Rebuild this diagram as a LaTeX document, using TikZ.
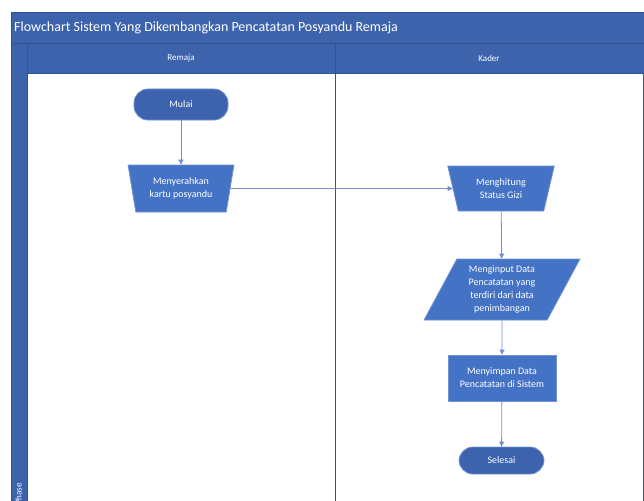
\documentclass[tikz,border=0pt]{standalone}
\usepackage{fontspec}
\setmainfont{Carlito}
\usetikzlibrary{shapes.geometric,arrows.meta}
\definecolor{barblue}{HTML}{3E63AD}
\definecolor{barline}{HTML}{2F5496}
\definecolor{nodeblue}{HTML}{4472C4}
\definecolor{termblue}{HTML}{3D62AE}
\definecolor{edgeblue}{HTML}{7193D2}
\definecolor{flowline}{HTML}{6F90D0}
\definecolor{laneline}{HTML}{44546A}
\tikzset{
  bar/.style={fill=barblue,draw=barline,line width=0.6pt},
  lbl/.style={text=white,font=\fontsize{9}{11}\selectfont,inner sep=0pt},
  proc/.style={fill=nodeblue,draw=edgeblue,line width=0.8pt,text=white,align=center,
    font=\fontsize{10}{13}\selectfont,inner sep=0pt},
  term/.style={proc,fill=termblue,rounded corners=14pt,rectangle,minimum height=31pt},
  trap/.style={proc,trapezium,trapezium stretches=true,shape border rotate=180},
  flow/.style={draw=flowline,line width=0.8pt,-{Triangle[length=5pt,width=5pt]}}
}
\begin{document}
\begin{tikzpicture}[x=1pt,y=-1pt]
\useasboundingbox (0,0) rectangle (644,500);
\clip (0,0) rectangle (644,500);
% frame
\draw[bar] (11,12) rectangle (650,43);
\draw[bar] (11,43) rectangle (27,510);
\draw[bar] (27,43) rectangle (335,73);
\draw[bar] (335,43) rectangle (650,73);
\draw[laneline,line width=0.8pt] (335,73) -- (335,510);
\draw[laneline,line width=0.6pt] (643,73) -- (643,510);
\node[lbl,anchor=west,font=\fontsize{14}{16}\selectfont] (title) at (14,28) {Flowchart Sistem Yang Dikembangkan Pencatatan Posyandu Remaja};
\node[lbl] (laneA) at (181,58) {Remaja};
\node[lbl] (laneB) at (489,58) {Kader};
\node[lbl,rotate=90,anchor=west] (phase) at (18.5,505) {Phase};
% nodes
\node[term,minimum width=94pt] (mulai) at (181,104.5) {Mulai};
\node[trap,trapezium angle=76,minimum width=106pt,minimum height=47pt] (serah) at (181,188.5) {Menyerahkan\\kartu posyandu};
\node[trap,trapezium angle=73,minimum width=107pt,minimum height=45pt] (hitung) at (501,188.5) {Menghitung\\Status Gizi};
\node[proc,trapezium,trapezium stretches=true,trapezium left angle=63,trapezium right angle=117,minimum width=156pt,minimum height=61pt] (input) at (502,289.5) {Menginput Data\\Pencatatan yang\\terdiri dari data\\penimbangan};
\node[proc,rectangle,minimum width=108pt,minimum height=46pt] (simpan) at (502,378) {Menyimpan Data\\Pencatatan di Sistem};
\node[term,minimum width=85pt,minimum height=27pt] (selesai) at (501.5,460.5) {Selesai};
% connectors
\draw[flow] (mulai) -- (serah);
\draw[flow] (serah.east) -- (hitung.west);
\draw[flow] (hitung) -- (input);
\draw[flow] (input) -- (simpan);
\draw[flow] (simpan) -- (selesai);
\end{tikzpicture}
\end{document}
